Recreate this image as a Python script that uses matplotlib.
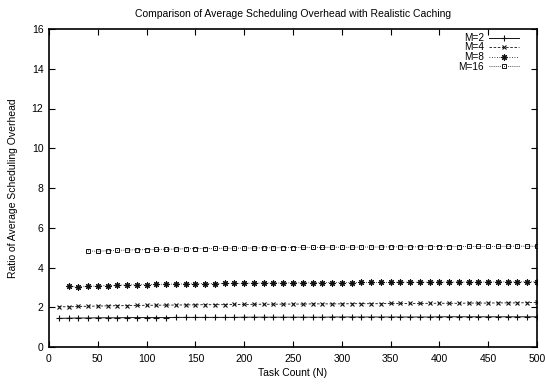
import numpy as np
from matplotlib import pyplot as plt

plt.rcParams['font.family'] = ['Liberation Sans', 'DejaVu Sans']

# task counts
n_m2 = list(range(10, 510, 10))
n_m4 = list(range(10, 510, 10))
n_m8 = list(range(20, 510, 10))
n_m16 = list(range(40, 510, 10))

m2 = [1.44, 1.45, 1.46, 1.46, 1.47, 1.47, 1.47, 1.48, 1.48, 1.48,
      1.48, 1.48, 1.49, 1.49, 1.49, 1.49, 1.49, 1.49, 1.49, 1.50,
      1.50, 1.50, 1.50, 1.50, 1.50, 1.50, 1.50, 1.50, 1.51, 1.51,
      1.51, 1.51, 1.51, 1.51, 1.51, 1.51, 1.51, 1.51, 1.51, 1.52,
      1.52, 1.52, 1.52, 1.52, 1.52, 1.52, 1.52, 1.52, 1.52, 1.52]
m4 = [2.03, 2.02, 2.04, 2.05, 2.06, 2.07, 2.08, 2.08, 2.09, 2.10,
      2.10, 2.11, 2.11, 2.12, 2.12, 2.13, 2.13, 2.13, 2.14, 2.14,
      2.15, 2.15, 2.15, 2.16, 2.16, 2.16, 2.17, 2.17, 2.17, 2.17,
      2.18, 2.18, 2.18, 2.18, 2.19, 2.19, 2.19, 2.19, 2.20, 2.20,
      2.20, 2.20, 2.21, 2.21, 2.21, 2.22, 2.22, 2.22, 2.23, 2.24]
m8 = [3.05, 3.02, 3.05, 3.07, 3.09, 3.11, 3.12, 3.13, 3.14, 3.15,
      3.16, 3.17, 3.17, 3.18, 3.19, 3.19, 3.20, 3.20, 3.21, 3.21,
      3.22, 3.22, 3.22, 3.23, 3.23, 3.23, 3.24, 3.24, 3.24, 3.24,
      3.25, 3.25, 3.25, 3.25, 3.26, 3.26, 3.26, 3.26, 3.26, 3.27,
      3.27, 3.27, 3.27, 3.27, 3.28, 3.28, 3.28, 3.28, 3.28]
m16 = [4.83, 4.82, 4.84, 4.86, 4.88, 4.89, 4.90, 4.91, 4.92, 4.93,
       4.94, 4.95, 4.95, 4.96, 4.97, 4.97, 4.98, 4.98, 4.99, 4.99,
       5.00, 5.00, 5.01, 5.01, 5.01, 5.02, 5.02, 5.02, 5.03, 5.03,
       5.03, 5.04, 5.04, 5.04, 5.04, 5.05, 5.05, 5.05, 5.05, 5.06,
       5.06, 5.06, 5.06, 5.07, 5.07, 5.07, 5.07]

fig = plt.figure(figsize=(5.45, 3.84), dpi=100)
ax = fig.add_axes([49 / 545, 37 / 384, 488 / 545, 318 / 384])

ax.plot(n_m2, m2, color='#111111', lw=0.7, ls='-', marker='+', ms=4.5, mew=0.8, label='M=2')
ax.plot(n_m4, m4, color='#111111', lw=0.6, ls=(0, (3, 2)), marker='x', ms=3.5, mew=0.8, label='M=4')
ax.plot(n_m8, m8, color='#111111', lw=0.6, ls=(0, (1, 2)), marker=(8, 2, 0), ms=4.5, mew=0.8, label='M=8')
ax.plot(n_m16, m16, color='#111111', lw=0.6, ls=(0, (1, 1.5)), marker='s', ms=3.5, mew=0.7,
        mfc='none', label='M=16')

ax.set_xlim(0, 500)
ax.set_ylim(0, 16)
ax.set_xticks(np.arange(0, 501, 50))
ax.set_yticks(np.arange(0, 17, 2))
ax.tick_params(direction='in', top=True, right=True, labelsize=7.5, length=4, width=0.8)
ax.tick_params(axis='x', pad=5)
ax.tick_params(axis='y', pad=4)
for s in ax.spines.values():
    s.set_linewidth(1.2)

ax.set_xlabel('Task Count (N)', fontsize=7.5, labelpad=3)
ax.set_ylabel('Ratio of Average Scheduling Overhead', fontsize=7.5, labelpad=10)
ax.set_title('Comparison of Average Scheduling Overhead with Realistic Caching', fontsize=7.5, pad=8.5)

leg = ax.legend(loc='upper right', bbox_to_anchor=(0.972, 1.0), frameon=False, markerfirst=False,
                fontsize=7.2, handlelength=3.0, handletextpad=0.55, labelspacing=-0.05,
                borderaxespad=0, borderpad=0.4)
for t in leg.get_texts():
    t.set_ha('right')

plt.savefig('out.png', dpi=100)
plt.close()
